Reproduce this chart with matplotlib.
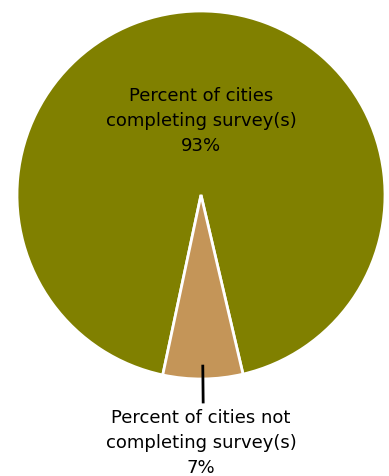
import numpy as np
import matplotlib.pyplot as plt

labels = ['Percent of cities\ncompleting survey(s)', 'Percent of cities not\ncompleting survey(s)']
values = [93, 7]
colors = ['#808000', '#C49558']


def plot_survey_pie():
  fig = plt.figure(figsize=(3.89, 4.77), dpi=100)
  # axes sized in pixels so the pie lands where the reference has it
  ax = fig.add_axes([17 / 389, 97 / 477, 368 / 389, 368 / 477])
  start = 258 + 360 * values[1] / sum(values)
  wedges, _ = ax.pie(values, colors=colors, startangle=start, radius=1,
                     wedgeprops=dict(edgecolor='white', linewidth=2))
  ax.set_xlim(-1, 1)
  ax.set_ylim(-1, 1)
  ax.axis('off')

  ax.text(0, 0.41, f'{labels[0]}\n{values[0]}%', ha='center', va='center',
          fontsize=13, linespacing=1.5)

  w = wedges[1]
  mid = np.deg2rad((w.theta1 + w.theta2) / 2)
  ax.plot([0.93 * np.cos(mid), 1.125 * np.cos(mid)], [0.93 * np.sin(mid), 1.125 * np.sin(mid)],
          color='black', linewidth=2, clip_on=False)
  ax.text(0, -1.345, f'{labels[1]}\n{values[1]}%', ha='center', va='center',
          fontsize=13, linespacing=1.5)

  plt.savefig('out.png', dpi=100)


plot_survey_pie()
